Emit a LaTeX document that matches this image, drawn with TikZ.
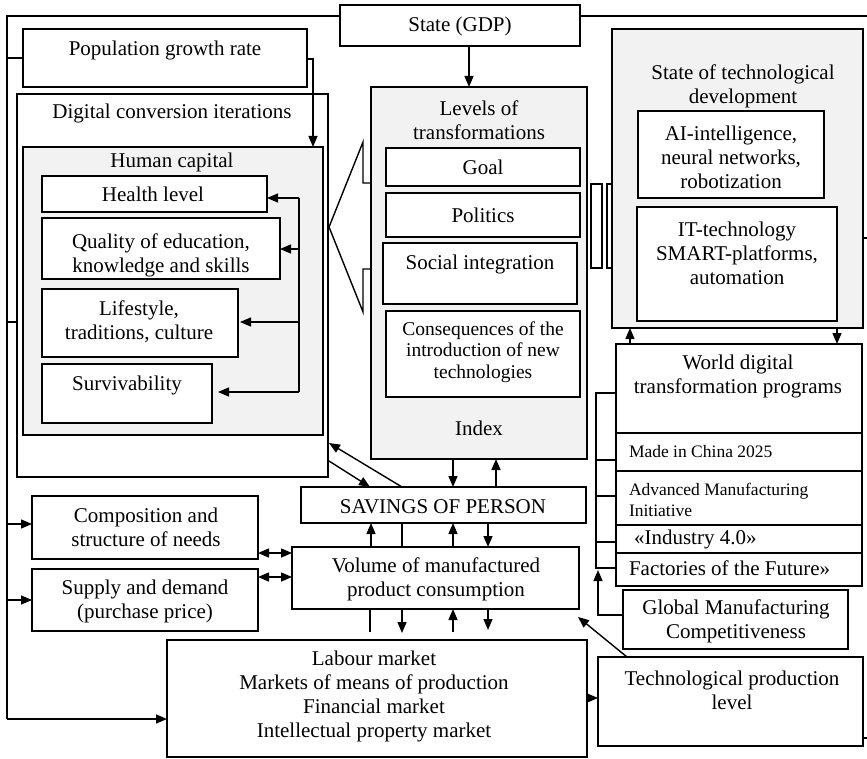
\documentclass[tikz,border=0pt]{standalone}
\usepackage{fontspec}
\setmainfont{Liberation Serif}
\usetikzlibrary{arrows.meta,calc}
\definecolor{gfill}{HTML}{F2F2F2}
\newcommand\mkbox[6]{\node[#6, minimum width={#4-#2}, minimum height={#5-#3}, anchor=north west] (#1) at (#2,#3) {};}
\begin{document}
\begin{tikzpicture}[x=1pt,y=-1pt,
  every node/.style={inner sep=0pt, outer sep=0pt},
  box/.style={draw, line width=1.4pt, fill=white, rectangle},
  gbox/.style={box, fill=gfill},
  txt/.style={font=\fontsize{21}{24}\selectfont, align=center},
  stxt/.style={font=\fontsize{19.5}{21.5}\selectfont, align=center},
  mtxt/.style={font=\fontsize{17.5}{21}\selectfont, align=left, anchor=west},
  ln/.style={line width=1.4pt},
  arr/.style={ln, -{Triangle[length=11pt,width=9pt]}},
  darr/.style={ln, {Triangle[length=11pt,width=9pt]}-{Triangle[length=11pt,width=9pt]}},
]
\useasboundingbox (0,0) rectangle (867,759);

% ---- coordinates used by connectors
\coordinate (L16) at (7,16);
\coordinate (L58) at (7,58);
\coordinate (L322) at (7,322);
\coordinate (L524) at (7,524);
\coordinate (L600) at (7,600);
\coordinate (L719) at (7,719);
\coordinate (R16) at (867,16);
\coordinate (R238) at (867,238);
\coordinate (R738) at (867,738);
\foreach \x in {299,313,329,370,371,402,453,469,488,496,596,598,627,630,837} {\coordinate (X\x) at (\x,0);}
\foreach \y in {59,198,249,322,392,393,443,460,461,496,542,553,568,570,577,615,630,632,633,698} {\coordinate (Y\y) at (0,\y);}

% ---- boxes
\mkbox{state}{340}{5}{580}{46}{box}
\mkbox{pop}{23}{29}{307}{87}{box}
\mkbox{dig}{17}{94}{328}{477}{box}
\mkbox{hc}{23}{147}{323}{435}{gbox}
\mkbox{health}{42}{176}{267}{212}{box}
\mkbox{qual}{42}{218}{280}{279}{box}
\mkbox{life}{42}{289}{238}{357}{box}
\mkbox{surv}{42}{364}{212}{423}{box}

% left hollow arrow shape
\draw[ln] (371,183) -- (363,183) -- (363,142) -- (329,227) -- (363,312) -- (363,269) -- (371,269);

\mkbox{lev}{371}{87}{587}{459}{gbox}
\mkbox{goal}{386}{148}{580}{186}{box}
\mkbox{pol}{386}{193}{580}{237}{box}
\mkbox{soc}{383}{243}{577}{304}{box}
\mkbox{cons}{386}{311}{580}{397}{box}

% right hollow arrow shape (partly hidden)
\draw[ln] (591,184) rectangle (602,268);
\draw[ln] (607,184) rectangle (625,268);

\mkbox{tech}{612}{29}{863}{328}{gbox}
\mkbox{ai}{638}{111}{824}{198}{box}
\mkbox{it}{637}{207}{837}{321}{box}

\mkbox{wd}{616}{344}{862}{433}{box}
\mkbox{r1}{616}{433}{862}{471}{box}
\mkbox{r2}{616}{471}{862}{525}{box}
\mkbox{r3}{616}{525}{862}{553}{box}
\mkbox{r4}{616}{553}{862}{586}{box}
\mkbox{glob}{623}{590}{848}{649}{box}
\mkbox{tpl}{598}{657}{863}{746}{box}

\mkbox{sav}{301}{487}{586}{523}{box}
\mkbox{vol}{292}{547}{579}{609}{box}
\mkbox{comp}{32}{496}{258}{559}{box}
\mkbox{sup}{32}{569}{258}{631}{box}
\mkbox{lab}{167}{640}{587}{757}{box}

% ---- texts
\node[txt] (state-t) at (460,26) {State (GDP)};
\node[txt] (pop-t) at (165,50) {Population growth rate};
\node[txt] (dig-t) at (172,113) {Digital conversion iterations};
\node[txt] (hc-t) at (172,162) {Human capital};
\node[txt] (health-t) at (153,194) {Health level};
\node[txt] (qual-t) at (161,255.5) {Quality of education,\\knowledge and skills};
\node[txt] (life-t) at (139,321.5) {Lifestyle,\\traditions, culture};
\node[txt] (surv-t) at (127,385) {Survivability};
\node[txt] (lev-t) at (479,120) {Levels of\\transformations};
\node[txt] (goal-t) at (483,167) {Goal};
\node[txt] (pol-t) at (483,215) {Politics};
\node[txt] (soc-t) at (480,264) {Social integration};
\node[stxt] (cons-t) at (483,352) {Consequences of the\\introduction of new\\technologies};
\node[txt] (idx-t) at (479,428) {Index};
\node[txt] (tech-t) at (743,86) {State of technological\\development};
\node[txt] (ai-t) at (731,157) {AI-intelligence,\\neural networks,\\robotization};
\node[txt] (it-t) at (737,253) {IT-technology\\SMART-platforms,\\automation};
\node[txt] (wd-t) at (738,376.5) {World digital\\transformation programs};
\node[mtxt] (r1-t) at (629,452) {Made in China 2025};
\node[mtxt] (r2-t) at (629,499.5) {Advanced Manufacturing\\Initiative};
\node[txt, anchor=west] (r3-t) at (634,539) {«Industry 4.0»};
\node[txt, anchor=west] (r4-t) at (629,568) {Factories of the Future»};
\node[txt] (glob-t) at (736,621.5) {Global Manufacturing\\Competitiveness};
\node[txt] (tpl-t) at (732,690) {Technological production\\level};
\node[txt] (sav-t) at (443,507) {SAVINGS OF PERSON};
\node[txt] (vol-t) at (436,579) {Volume of manufactured\\product consumption};
\node[txt] (comp-t) at (146,527.5) {Composition and\\structure of needs};
\node[txt] (sup-t) at (145,601.5) {Supply and demand\\(purchase price)};
\node[txt] (lab-t) at (374,696.5) {Labour market\\Markets of means of production\\Financial market\\Intellectual property market};

% ---- connectors
% outer left frame
\draw[ln] (L16 -| state.west) -- (L16) -- (L719);
\draw[arr] (L719) -- (L719 -| lab.west);
\draw[ln] (L58) -- (L58 -| pop.west);
\draw[ln] (L322) -- (L322 -| dig.west);
\draw[arr] (L524) -- (L524 -| comp.west);
\draw[arr] (L600) -- (L600 -| sup.west);
% outer right stubs
\draw[ln] (R16 -| state.east) -- (R16);
\draw[ln] (R238 -| tech.east) -- (R238);
\draw[ln] (R738 -| tpl.east) -- (R738);

\draw[arr] (state.south -| X469) -- (lev.north -| X469);
\draw[arr] (Y59 -| pop.east) -- (X313 |- Y59) -- (X313 |- hc.north);

% human capital feed
\draw[ln] (X299 |- Y198) -- (X299 |- Y392);
\draw[arr] (X299 |- Y198) -- (health.east |- Y198);
\draw[arr] (X299 |- Y249) -- (qual.east |- Y249);
\draw[arr, shorten >=2pt] (X299 |- Y322) -- (life.east |- Y322);
\draw[arr, shorten >=6pt] (X299 |- Y392) -- (surv.east |- Y392);

% tech <-> world programs
\draw[arr] (wd.north -| X630) -- (tech.south -| X630);
\draw[arr] (tech.south -| X837) -- (wd.north -| X837);

% bracket left of programs
\draw[ln] (wd.west |- Y393) -- (X596 |- Y393) -- (X596 |- Y568) -- (r4.west |- Y568);
\draw[ln] (X596 |- Y460) -- (r1.west |- Y460);
\draw[ln] (X596 |- Y496) -- (r2.west |- Y496);
\draw[ln] (X596 |- Y542) -- (r3.west |- Y542);
\draw[arr] (glob.west |- Y615) -- (X598 |- Y615) -- (X598 |- Y570);

% technological production level
\draw[arr] (tpl.north -| X627) -- ($(vol.south east)+(-1,8)$);
\draw[arr] (lab.east |- Y698) -- (tpl.west |- Y698);

% needs / supply <-> volume
\draw[darr] (comp.east |- Y553) -- (vol.west |- Y553);
\draw[darr] (sup.east |- Y577) -- (vol.west |- Y577);

% levels <-> savings
\draw[arr] (lev.south -| X453) -- (sav.north -| X453);
\draw[arr] (sav.north -| X496) -- (lev.south -| X496);

% digital conversion <-> savings
\draw[arr] (sav.north -| X402) -- ($(dig.east |- Y443)+(1,0)$);
\draw[arr] ($(dig.east |- Y461)+(1,0)$) -- (sav.north -| X370);

% savings <-> volume
\draw[arr] (vol.north -| X371) -- (sav.south -| X371);
\draw[ln] (sav.south -| X402) -- (vol.north -| X402);
\draw[arr] (vol.north -| X453) -- (sav.south -| X453);
\draw[arr] (sav.south -| X488) -- (vol.north -| X488);

% volume <-> labour
\draw[ln] (vol.south -| X370) -- (X370 |- Y632);
\draw[arr] (vol.south -| X402) -- (X402 |- Y633);
\draw[arr] (X453 |- Y632) -- (vol.south -| X453);
\draw[arr] (vol.south -| X488) -- (X488 |- Y630);
\end{tikzpicture}
\end{document}
